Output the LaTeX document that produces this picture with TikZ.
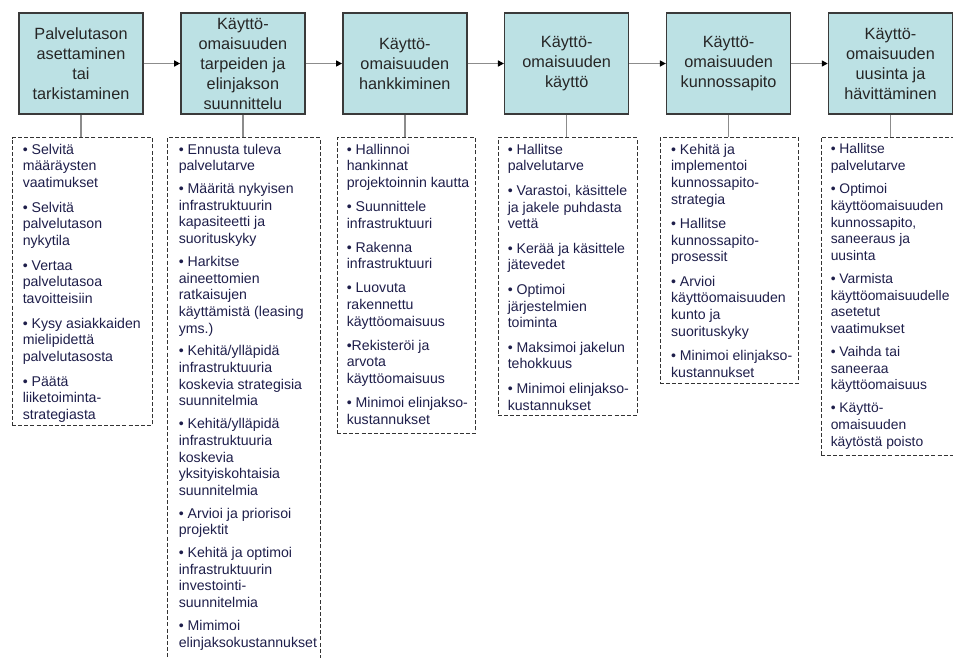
\documentclass[tikz,border=0pt]{standalone}
\usepackage{fontspec}
\setmainfont{Liberation Sans}
\usetikzlibrary{arrows.meta,positioning}
\definecolor{phasefill}{HTML}{BCE1E4}
\definecolor{phaseline}{HTML}{3A3A3A}
\definecolor{linkgrey}{HTML}{8C8C8C}
\definecolor{listtext}{HTML}{1E1E4A}
\newlength{\itemgap}
\newcommand{\nxt}{\\[\itemgap]}

\begin{document}
\begin{tikzpicture}[x=0.75pt, y=-0.75pt,
  phase/.style={draw=phaseline, fill=phasefill, line width=1.1pt, inner sep=0pt,
    minimum width=93pt, minimum height=75.75pt, align=center,
    font=\fontsize{12.2}{15}\selectfont, text=black!85},
  framebox/.style={draw=black!80, dash pattern=on 3pt off 1.6pt, line width=0.75pt,
    anchor=north, inner sep=0pt},
  items/.style={align=left, inner sep=0pt, font=\fontsize{10.6}{12.5}\selectfont, text=listtext,
    execute at begin node={\setlength{\itemgap}{#1}}},
  items/.default=4.5pt,
  flow/.style={linkgrey, line width=1.1pt, -{Triangle[length=4.5pt, width=4.5pt, color=black]}},
  link/.style={linkgrey, line width=1.1pt},
]
\useasboundingbox (0,0) rectangle (953,657);
\clip (0,0) rectangle (953,657);

% phase boxes along the top
\node[phase] (p1) at (81,63.5)    {Palvelutason\\asettaminen\\tai\\tarkistaminen};
\node[phase] (p2) at (242.9,63.5) {Käyttö-\\omaisuuden\\tarpeiden ja\\elinjakson\\suunnittelu};
\node[phase] (p3) at (404.8,63.5) {Käyttö-\\omaisuuden\\hankkiminen};
\node[phase] (p4) at (566.7,63.5) {Käyttö-\\omaisuuden\\käyttö};
\node[phase] (p5) at (728.6,63.5) {Käyttö-\\omaisuuden\\kunnossapito};
\node[phase] (p6) at (890.5,63.5) {Käyttö-\\omaisuuden\\uusinta ja\\hävittäminen};
\foreach \i/\j in {1/2,2/3,3/4,4/5,5/6}
  \draw[flow] (p\i) -- (p\j);

% dashed task frames (x centre, width, height in px)
\foreach \i/\xc/\w/\h in {1/82/140/288, 2/243.5/153/540, 3/406/138/296,
                          4/567.5/139/278, 5/729/138/246, 6/890/138/318} {
  \node[framebox, minimum width=\w*0.75pt, minimum height=\h*0.75pt] (t\i) at (\xc,137) {};
  \draw[link] (p\i.south) -- (p\i.south |- t\i.north);
}

% task lists
\node[items=6pt, below right=5pt and 8.25pt of t1.north west] (l1) {%
  • Selvitä\\määräysten\\vaatimukset\nxt
  • Selvitä\\palvelutason\\nykytila\nxt
  • Vertaa\\palvelutasoa\\tavoitteisiin\nxt
  • Kysy asiakkaiden\\mielipidettä\\palvelutasosta\nxt
  • Päätä\\liiketoiminta-\\strategiasta};
\node[items=4.6pt, below right=5pt and 9pt of t2.north west] (l2) {%
  • Ennusta tuleva\\palvelutarve\nxt
  • Määritä nykyisen\\infrastruktuurin\\kapasiteetti ja\\suorituskyky\nxt
  • Harkitse\\aineettomien\\ratkaisujen\\käyttämistä (leasing\\yms.)\nxt
  • Kehitä/ylläpidä\\infrastruktuuria\\koskevia strategisia\\suunnitelmia\nxt
  • Kehitä/ylläpidä\\infrastruktuuria\\koskevia\\yksityiskohtaisia\\suunnitelmia\nxt
  • Arvioi ja priorisoi\\projektit\nxt
  • Kehitä ja optimoi\\infrastruktuurin\\investointi-\\suunnitelmia\nxt
  • Mimimoi\\elinjaksokustannukset};
\node[items=5.5pt, below right=5pt and 7.5pt of t3.north west] (l3) {%
  • Hallinnoi\\hankinnat\\projektoinnin kautta\nxt
  • Suunnittele\\infrastruktuuri\nxt
  • Rakenna\\infrastruktuuri\nxt
  • Luovuta\\rakennettu\\käyttöomaisuus\nxt
  •Rekisteröi ja\\arvota\\käyttöomaisuus\nxt
  • Minimoi elinjakso-\\kustannukset};
\node[items=5.9pt, below right=5pt and 7.5pt of t4.north west] (l4) {%
  • Hallitse\\palvelutarve\nxt
  • Varastoi, käsittele\\ja jakele puhdasta\\vettä\nxt
  • Kerää ja käsittele\\jätevedet\nxt
  • Optimoi\\järjestelmien\\toiminta\nxt
  • Maksimoi jakelun\\tehokkuus\nxt
  • Minimoi elinjakso-\\kustannukset};
\node[items=5.75pt, below right=5pt and 8.5pt of t5.north west] (l5) {%
  • Kehitä ja\\implementoi\\kunnossapito-\\strategia\nxt
  • Hallitse\\kunnossapito-\\prosessit\nxt
  • Arvioi\\käyttöomaisuuden\\kunto ja\\suorituskyky\nxt
  • Minimoi elinjakso-\\kustannukset};
\node[items=4.8pt, font=\fontsize{10.4}{12.5}\selectfont,
      below right=5pt and 7.5pt of t6.north west] (l6) {%
  • Hallitse\\palvelutarve\nxt
  • Optimoi\\käyttöomaisuuden\\kunnossapito,\\saneeraus ja\\uusinta\nxt
  • Varmista\\käyttöomaisuudelle\\asetetut\\vaatimukset\nxt
  • Vaihda tai\\saneeraa\\käyttöomaisuus\nxt
  • Käyttö-\\omaisuuden\\käytöstä poisto};
\end{tikzpicture}
\end{document}
